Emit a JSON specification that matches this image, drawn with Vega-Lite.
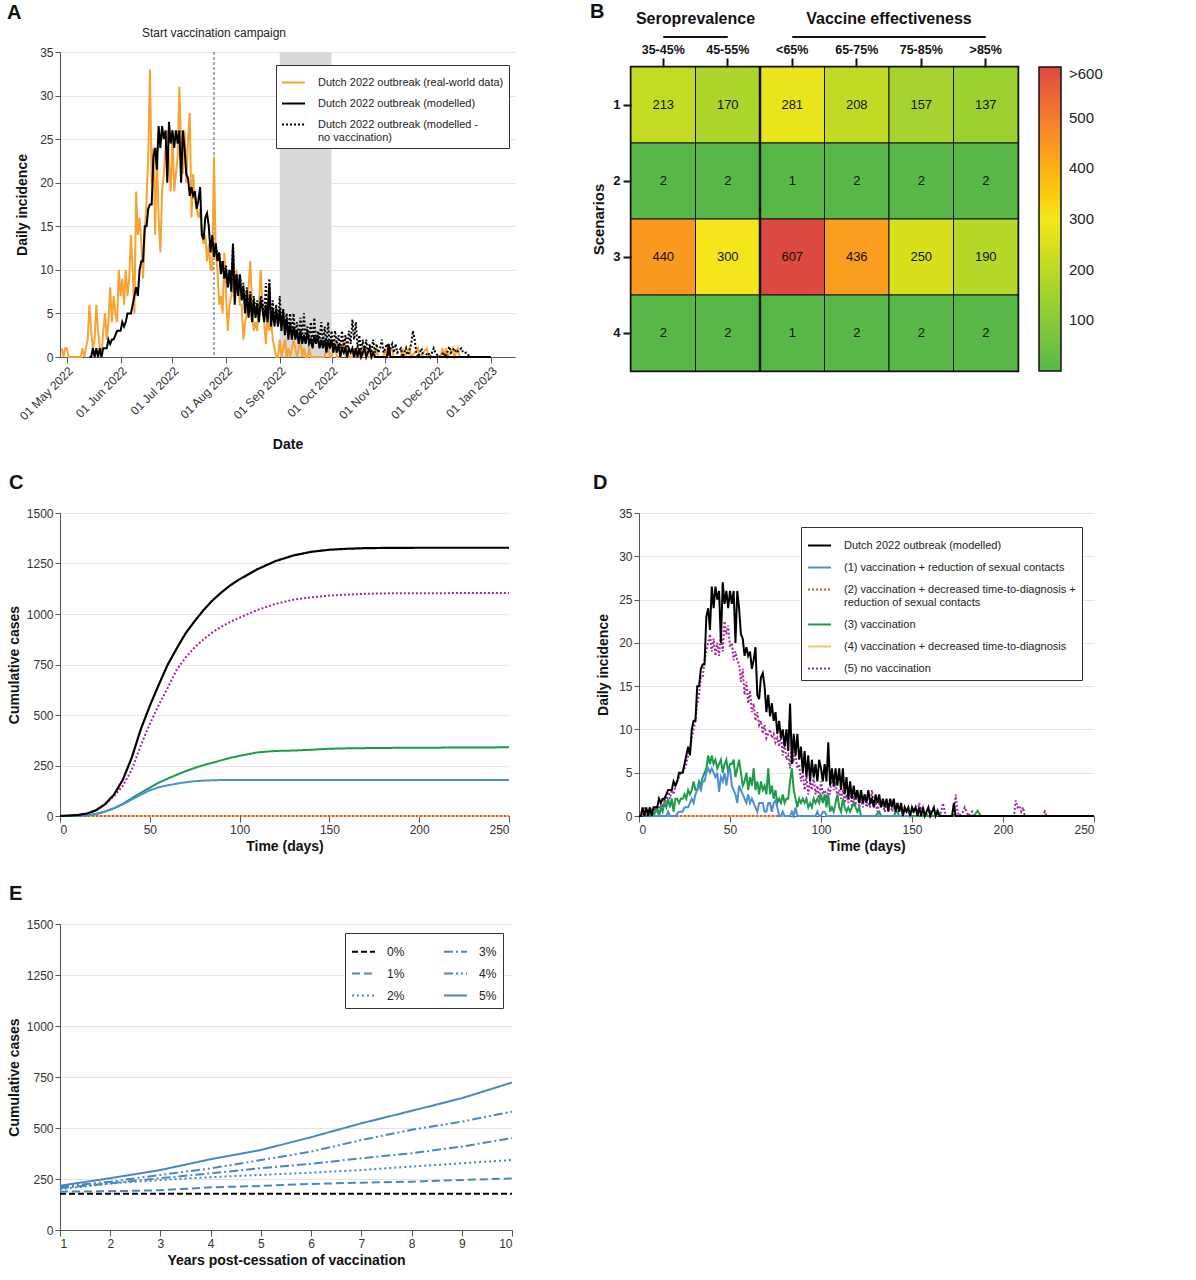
{
"$schema": "https://vega.github.io/schema/vega-lite/v6.json",
"background": "white",
"padding": {"left": 7, "top": 2, "right": 5, "bottom": 5},
"config": {
 "font": "Liberation Sans",
 "view": {"stroke": null},
 "axis": {"labelFont": "Liberation Sans", "titleFont": "Liberation Sans", "labelFontSize": 12, "labelColor": "#333", "titleFontSize": 14, "titleFontWeight": "bold", "titleColor": "#111", "domainColor": "#555", "tickColor": "#555", "gridColor": "#e4e4e4"},
 "legend": {"labelFont": "Liberation Sans", "labelFontSize": 11, "labelColor": "#222", "labelLimit": 400},
 "title": {"font": "Liberation Sans", "fontSize": 20, "fontWeight": "bold", "anchor": "start", "color": "#111"},
 "text": {"font": "Liberation Sans"}
},
"datasets": {
 "daily": [
  {"t":-16,"rw":1},{"t":-15,"rw":0},{"t":-14,"rw":1},{"t":-13,"rw":1},{"t":-12,"rw":0},{"t":-5,"rw":0},{"t":-4,"rw":1},{"t":-3,"rw":0},{"t":-2,"rw":1},{"t":-1,"rw":2},
  {"t":0,"rw":6,"m":0,"s5":0},
  {"t":1,"rw":3,"m":0,"s5":0},
  {"t":2,"rw":1,"m":1,"s5":0},
  {"t":3,"rw":2,"m":0,"s5":1,"s3":0},
  {"t":4,"rw":6,"m":1,"s5":0,"s3":0},
  {"t":5,"rw":3,"m":0,"s5":0,"s3":0,"s1":0,"s2":0,"s4":0},
  {"t":6,"rw":1,"m":1,"s5":1,"s3":1},
  {"t":7,"rw":0,"m":0,"s5":0,"s3":0},
  {"t":8,"rw":3,"m":1,"s5":0,"s3":0},
  {"t":9,"rw":5,"m":1,"s5":1,"s3":0.5},
  {"t":10,"rw":2,"m":1,"s5":0.5,"s3":1},
  {"t":11,"rw":4,"m":2,"s5":1,"s3":0},
  {"t":12,"rw":8,"m":1.5,"s5":1.5,"s3":1},
  {"t":13,"rw":4,"m":2,"s5":1,"s3":0.5},
  {"t":14,"rw":7,"m":2,"s5":2,"s3":1.5},
  {"t":15,"rw":5,"m":2.5,"s5":1.5,"s3":1,"s1":0},
  {"t":16,"rw":4,"m":3,"s5":3,"s3":2,"s1":0.5},
  {"t":17,"rw":10,"m":3,"s5":2,"s3":1,"s1":0},
  {"t":18,"rw":7,"m":3,"s5":3,"s3":2},
  {"t":19,"rw":9,"m":4,"s5":2.5,"s3":0.5},
  {"t":20,"rw":6,"m":3.5,"s5":3.5,"s3":2,"s1":0},
  {"t":21,"rw":10,"m":4,"s5":4,"s3":2},
  {"t":22,"rw":7,"m":5,"s5":4.5,"s3":1.5,"s1":0.5},
  {"t":23,"rw":9,"m":5,"s5":5,"s3":2},
  {"t":24,"rw":14,"m":5,"s5":5,"s3":2,"s1":0.5},
  {"t":25,"rw":10,"m":6,"s5":5.5,"s3":2.5,"s1":1},
  {"t":26,"rw":5,"m":7,"s5":6,"s3":2},
  {"t":27,"rw":19,"m":8,"s5":7,"s3":3,"s1":1},
  {"t":28,"rw":14,"m":7,"s5":7.5,"s3":2.5,"s1":1.5},
  {"t":29,"rw":16,"m":10,"s5":9,"s3":3,"s1":2},
  {"t":30,"rw":13,"m":11,"s5":10,"s3":4,"s1":1.5},
  {"t":31,"rw":9,"m":11,"s5":11,"s3":3,"s1":2.5},
  {"t":32,"rw":14,"m":15,"s5":13,"s3":3,"s1":3},
  {"t":33,"rw":18,"m":15,"s5":14,"s3":4,"s1":3.5},
  {"t":34,"rw":23,"m":17,"s5":16,"s3":3.5,"s1":3},
  {"t":35,"rw":33,"m":17.5,"s5":16,"s3":4.5,"s1":4},
  {"t":36,"rw":20,"m":17.5,"s5":18,"s3":5,"s1":4},
  {"t":37,"rw":24,"m":23,"s5":19,"s3":5.5,"s1":5},
  {"t":38,"rw":14,"m":24,"s5":20,"s3":7,"s1":5.5},
  {"t":39,"rw":24,"m":21.5,"s5":21,"s3":6,"s1":5},
  {"t":40,"rw":16,"m":26.5,"s5":19,"s3":7,"s1":5.5},
  {"t":41,"rw":12,"m":24,"s5":20.5,"s3":6,"s1":5},
  {"t":42,"rw":19,"m":26.5,"s5":18.5,"s3":6.5,"s1":4.5},
  {"t":43,"rw":21,"m":25,"s5":20,"s3":5.5,"s1":5},
  {"t":44,"rw":24,"m":26,"s5":18.5,"s3":6,"s1":2.8},
  {"t":45,"rw":26,"m":20,"s5":21,"s3":6.5,"s1":4.5},
  {"t":46,"rw":22,"m":27,"s5":19,"s3":5,"s1":4},
  {"t":47,"rw":19,"m":24.5,"s5":22.5,"s3":6,"s1":5},
  {"t":48,"rw":26,"m":26,"s5":21,"s3":6.5,"s1":3.5},
  {"t":49,"rw":19,"m":24,"s5":22,"s3":5,"s1":5},
  {"t":50,"rw":21,"m":26,"s5":19.5,"s3":6,"s1":5.5},
  {"t":51,"rw":23,"m":24.5,"s5":20,"s3":6,"s1":3.5},
  {"t":52,"rw":31,"m":26,"s5":18,"s3":6.5,"s1":3},
  {"t":53,"rw":24,"m":20,"s5":19,"s3":4.5,"s1":2.5},
  {"t":54,"rw":21,"m":26,"s5":18,"s3":5.5,"s1":1.5},
  {"t":55,"rw":26,"m":24,"s5":17.5,"s3":6.5,"s1":3.5},
  {"t":56,"rw":20,"m":21,"s5":15.5,"s3":5,"s1":3},
  {"t":57,"rw":25,"m":20.5,"s5":17,"s3":3.5,"s1":2.5},
  {"t":58,"rw":28,"m":18.5,"s5":14,"s3":4,"s1":2},
  {"t":59,"rw":16,"m":19.5,"s5":15.5,"s3":5,"s1":1.5},
  {"t":60,"rw":21,"m":18.5,"s5":13,"s3":3,"s1":2.5},
  {"t":61,"rw":18,"m":19,"s5":14.5,"s3":4.5,"s1":1.5},
  {"t":62,"rw":17,"m":17,"s5":12,"s3":3.5,"s1":2},
  {"t":63,"rw":16,"m":18,"s5":13,"s3":5.5,"s1":1.5},
  {"t":64,"rw":17,"m":19.5,"s5":11,"s3":3,"s1":1},
  {"t":65,"rw":14,"m":14,"s5":12,"s3":4,"s1":0.5},
  {"t":66,"rw":13,"m":13.5,"s5":10.5,"s3":2.5,"s1":1.5},
  {"t":67,"rw":14,"m":16,"s5":11,"s3":4,"s1":1.5},
  {"t":68,"rw":11,"m":16.5,"s5":9.5,"s3":3,"s1":1.5},
  {"t":69,"rw":13,"m":15,"s5":10.5,"s3":3.5,"s1":0.5},
  {"t":70,"rw":10,"m":12,"s5":9,"s3":2.5,"s1":0.5},
  {"t":71,"rw":10,"m":14,"s5":9.5,"s3":5.5,"s1":1.5},
  {"t":72,"rw":23,"m":11.5,"s5":10,"s3":2.5,"s1":1.5,"nv":11.5},
  {"t":73,"rw":12,"m":13,"s5":9,"s3":3.5,"s1":0.5,"nv":13},
  {"t":74,"rw":10,"m":11,"s5":9.5,"s3":2,"s1":1.5,"nv":11.5},
  {"t":75,"rw":6,"m":12,"s5":8.5,"s3":3,"s1":1.8,"nv":12},
  {"t":76,"rw":7,"m":9.5,"s5":9,"s3":1.5,"s1":1,"nv":10},
  {"t":77,"rw":5,"m":11,"s5":8,"s3":2,"s1":0,"nv":11},
  {"t":78,"rw":12,"m":9,"s5":9.5,"s3":1.5,"s1":0,"nv":9},
  {"t":79,"rw":7,"m":10,"s5":7,"s3":2.5,"s1":0.5,"nv":10.5},
  {"t":80,"rw":3,"m":8,"s5":8.5,"s3":1.5,"s1":0,"s4":0,"nv":8},
  {"t":81,"rw":6,"m":10,"s5":6.5,"s3":2,"nv":10},
  {"t":82,"rw":7,"m":7.5,"s5":7,"s3":2,"nv":8},
  {"t":83,"rw":9,"m":13,"s5":5.5,"s3":4,"s1":0,"nv":13},
  {"t":84,"rw":8,"m":6,"s5":8,"s3":5.5,"s1":0.5,"nv":6.5},
  {"t":85,"rw":10,"m":9.5,"s5":6.5,"s3":3,"s1":0,"s2":0,"nv":9.5},
  {"t":86,"rw":8,"m":7,"s5":7,"s3":2,"s1":1,"nv":7.5},
  {"t":87,"rw":6,"m":9.5,"s5":5.5,"s3":1,"s1":0,"nv":9.5},
  {"t":88,"rw":6,"m":6.5,"s5":6,"s3":2,"nv":7},
  {"t":89,"rw":2,"m":8,"s5":4,"s3":1.5,"nv":8.5},
  {"t":90,"rw":4,"m":5,"s5":5,"s3":2,"nv":5.5},
  {"t":91,"rw":5,"m":7.5,"s5":3,"s3":1.5,"nv":8},
  {"t":92,"rw":8,"m":4.5,"s5":4.5,"s3":2,"nv":5},
  {"t":93,"rw":11,"m":7,"s5":2.5,"s3":1,"nv":7.5},
  {"t":94,"rw":6,"m":4,"s5":4,"s3":1.5,"nv":4.5},
  {"t":95,"rw":3,"m":6.5,"s5":3,"s3":1,"nv":7},
  {"t":96,"rw":4,"m":4.5,"s5":4.5,"s3":2,"nv":5},
  {"t":97,"rw":3,"m":6,"s5":2.5,"s3":1.5,"s1":0,"nv":6.5},
  {"t":98,"rw":6,"m":4,"s5":3.5,"s3":2,"s1":0.5,"nv":4.5},
  {"t":99,"rw":10,"m":6.5,"s5":2,"s3":1.5,"s1":0,"nv":7},
  {"t":100,"rw":6,"m":5.5,"s5":4,"s3":2.5,"s1":0,"nv":6.5},
  {"t":101,"rw":4,"m":4,"s5":2.5,"s3":1.5,"s1":0.5,"nv":4.5},
  {"t":102,"rw":1.5,"m":6,"s5":3,"s3":2.5,"s1":0.5,"nv":8.5},
  {"t":103,"rw":5,"m":4,"s5":2,"s3":1,"s1":0,"nv":4.5},
  {"t":104,"rw":3,"m":8.5,"s5":3,"s3":2.5,"nv":9},
  {"t":105,"rw":4,"m":3.5,"s5":2.5,"s3":0.5,"nv":4},
  {"t":106,"rw":2,"m":5.5,"s5":5.5,"s3":1,"nv":6.5},
  {"t":107,"rw":1,"m":3.5,"s5":3,"s3":0.5,"nv":4},
  {"t":108,"rw":0,"m":5.5,"s5":4,"s3":1.5,"nv":6},
  {"t":109,"rw":0,"m":3.5,"s5":2,"s3":2.5,"nv":3.5},
  {"t":110,"rw":2,"m":5.5,"s5":3,"s3":1,"nv":7},
  {"t":111,"rw":0,"m":3,"s5":2,"s3":0.5,"nv":3.5},
  {"t":112,"rw":1,"m":5.5,"s5":3,"s3":2,"nv":5.5},
  {"t":113,"rw":2,"m":2.5,"s5":1.5,"s3":1,"nv":3},
  {"t":114,"rw":0,"m":4.5,"s5":2.5,"s3":0.5,"nv":5},
  {"t":115,"rw":1,"m":2,"s5":1.5,"s3":1,"nv":3},
  {"t":116,"rw":0,"m":4,"s5":3,"s3":0.5,"nv":5},
  {"t":117,"rw":1,"m":2,"s5":1,"s3":1,"nv":2.5},
  {"t":118,"rw":2,"m":3.5,"s5":2,"s3":1.5,"nv":5},
  {"t":119,"rw":1,"m":2,"s5":1.5,"s3":1,"nv":2.5},
  {"t":120,"rw":0,"m":3,"s5":3,"s3":0.5,"nv":4},
  {"t":121,"rw":1,"m":1.5,"s5":1,"s3":1,"nv":2},
  {"t":122,"rw":2,"m":3,"s5":2,"s3":0,"nv":4.5},
  {"t":123,"rw":0,"m":1.5,"s5":1,"nv":2},
  {"t":124,"rw":1,"m":2.5,"s5":2.5,"nv":5},
  {"t":125,"rw":0,"m":1.5,"s5":1,"nv":2},
  {"t":126,"rw":0,"m":3,"s5":1.5,"nv":3.5},
  {"t":127,"rw":1,"m":1.5,"s5":1,"nv":2},
  {"t":128,"rw":0,"m":2,"s5":3,"nv":4},
  {"t":129,"rw":0,"m":1,"s5":1,"nv":1.5},
  {"t":130,"m":2.5,"s5":1.5,"s3":0,"nv":4.5},
  {"t":131,"m":1.5,"s5":0.5,"nv":1.5},
  {"t":132,"m":2.5,"s5":1.5,"s3":0.5,"nv":3},
  {"t":133,"m":1,"s5":1,"s3":0,"nv":2},
  {"t":134,"m":2,"s5":1.5,"nv":4},
  {"t":135,"rw":0,"m":1,"s5":0.5,"nv":1.5},
  {"t":136,"rw":0,"m":2,"s5":1.5,"nv":3.5},
  {"t":137,"rw":1,"m":0.5,"s5":1,"nv":1.5},
  {"t":138,"rw":2,"m":2,"s5":2,"nv":4},
  {"t":139,"rw":0,"m":1,"s5":0.5,"nv":1},
  {"t":140,"rw":0,"m":2,"s5":1,"s3":0,"nv":3},
  {"t":141,"rw":1,"m":0.5,"s5":0.5,"s3":0.5,"nv":1},
  {"t":142,"rw":2,"m":1.5,"s5":1.5,"s3":0.5,"nv":3},
  {"t":143,"rw":0,"m":0.5,"s5":0.5,"s3":0,"nv":1.5},
  {"t":144,"rw":0,"m":1.5,"s5":1,"nv":2.5},
  {"t":145,"rw":0,"m":0,"s5":0,"nv":1},
  {"t":146,"rw":1,"m":1,"s5":1,"nv":3},
  {"t":147,"rw":2,"m":0.5,"s5":0.5,"nv":1},
  {"t":148,"rw":0,"m":1,"s5":0.5,"nv":2.5},
  {"t":149,"rw":1,"m":0,"s5":0,"nv":1},
  {"t":150,"rw":0,"m":1,"s5":0.5,"s1":0,"nv":3},
  {"t":151,"m":0.5,"nv":1.5},
  {"t":152,"rw":0,"m":1,"s5":1,"nv":4.3},
  {"t":153,"rw":1,"m":0,"s5":0.5,"nv":2},
  {"t":154,"rw":0,"m":1,"s5":1.5,"nv":4},
  {"t":155,"rw":1,"m":0,"s5":0.5,"nv":1},
  {"t":156,"rw":0,"m":1,"s5":1,"nv":2.5},
  {"t":157,"rw":1,"m":0,"s5":0,"nv":0.5},
  {"t":158,"rw":0,"m":0.5,"nv":2},
  {"t":159,"rw":1,"m":1,"nv":0.5},
  {"t":160,"rw":1,"m":0,"s5":0.5,"nv":2},
  {"t":161,"rw":0,"m":0.5,"s5":0,"nv":0.5},
  {"t":162,"m":1,"nv":1.5},
  {"t":163,"m":0,"s3":0,"nv":0.5},
  {"t":164,"m":0.5,"s3":0.7,"nv":2},
  {"t":165,"rw":0,"m":0,"s5":0,"s3":0.3,"nv":0.5},
  {"t":166,"rw":1,"m":0,"s5":0.5,"s3":0,"nv":1.5},
  {"t":167,"rw":0,"s5":1.5,"nv":0.5},
  {"t":168,"s5":0.5,"nv":1},
  {"t":169,"s5":0,"nv":2},
  {"t":170,"rw":0,"nv":0.5},
  {"t":171,"rw":1},
  {"t":172,"rw":0,"m":0,"nv":1.5},
  {"t":173,"m":1.5,"s5":0,"nv":0.5},
  {"t":174,"m":0,"s5":2.5},
  {"t":175,"rw":1,"m":0,"s5":0.5,"nv":1.5},
  {"t":176,"rw":0,"s5":0,"nv":0.5},
  {"t":177,"nv":1.5},
  {"t":178,"s5":0.5,"nv":0.5},
  {"t":179,"s5":1},
  {"t":180,"rw":0,"m":0,"s5":0.5,"nv":1},
  {"t":181,"rw":1,"s5":0,"nv":0},
  {"t":182,"rw":0},
  {"t":183,"s5":0.5,"nv":1},
  {"t":184,"s3":0,"s5":0,"nv":0},
  {"t":185,"rw":1},
  {"t":186,"rw":0,"s3":0.6,"nv":1.5},
  {"t":187,"s3":0.3,"nv":3},
  {"t":188,"s3":0,"nv":2},
  {"t":189,"nv":0.5},
  {"t":190,"rw":1,"nv":0},
  {"t":191,"rw":0},
  {"t":192,"nv":1},
  {"t":193,"nv":0},
  {"t":195,"rw":1},
  {"t":196,"rw":0,"nv":0.5},
  {"t":197,"nv":0},
  {"t":199,"nv":1},
  {"t":200,"nv":0.5},
  {"t":202,"nv":0},
  {"t":203,"rw":0},
  {"t":204,"rw":1},
  {"t":205,"rw":0,"nv":0.5},
  {"t":206,"rw":1,"s5":0,"nv":0},
  {"t":207,"rw":0,"s5":1.8},
  {"t":208,"s5":1,"nv":1.2},
  {"t":209,"s5":1.2,"nv":0.5},
  {"t":210,"rw":1,"s5":0.5},
  {"t":211,"rw":0,"s5":1,"nv":1},
  {"t":212,"s5":0,"nv":0.5},
  {"t":213,"rw":1},
  {"t":214,"rw":0},
  {"t":215,"nv":1},
  {"t":216,"nv":0.5},
  {"t":218,"nv":0.5},
  {"t":220,"rw":0,"nv":0},
  {"t":222,"s5":0},
  {"t":223,"s5":0.5},
  {"t":224,"s5":0},
  {"t":232,"m":0},
  {"t":250,"m":0}
 ],
 "cum": [
  {"t":0,"m":0,"s1":0,"s2":0,"s3":0,"s4":0,"s5":0},
  {"t":5,"m":2,"s1":0.5,"s3":0.5,"s5":2},
  {"t":10,"m":5,"s1":1,"s3":1,"s5":5},
  {"t":15,"m":12,"s1":3,"s3":3,"s5":12},
  {"t":20,"m":28,"s1":10,"s3":10,"s5":28},
  {"t":25,"m":58,"s1":22,"s3":22,"s5":57},
  {"t":30,"m":105,"s1":38,"s3":38,"s5":98},
  {"t":35,"m":180,"s1":58,"s3":60,"s5":150},
  {"t":40,"m":290,"s1":82,"s3":88,"s5":230},
  {"t":45,"m":430,"s1":105,"s3":115,"s5":350},
  {"t":50,"m":545,"s1":127,"s3":140,"s5":455},
  {"t":55,"m":650,"s1":142,"s3":165,"s5":550},
  {"t":60,"m":750,"s1":152,"s3":185,"s5":635},
  {"t":65,"m":830,"s1":160,"s3":204,"s5":725},
  {"t":70,"m":905,"s1":167,"s3":222,"s5":785},
  {"t":75,"m":965,"s1":172,"s3":238,"s5":835},
  {"t":80,"m":1020,"s1":175,"s3":252,"s5":875},
  {"t":85,"m":1068,"s1":177,"s3":264,"s5":910},
  {"t":90,"m":1108,"s1":178,"s3":276,"s5":938},
  {"t":95,"m":1143,"s1":178,"s3":288,"s5":962},
  {"t":100,"m":1172,"s1":178,"s3":298,"s5":982},
  {"t":110,"m":1222,"s1":178,"s3":315,"s5":1020},
  {"t":120,"m":1262,"s1":178,"s3":322,"s5":1050},
  {"t":130,"m":1290,"s1":178,"s3":324,"s5":1071},
  {"t":140,"m":1308,"s1":178,"s3":328,"s5":1083},
  {"t":150,"m":1318,"s1":178,"s3":333,"s5":1091},
  {"t":160,"m":1323,"s1":178,"s3":335,"s5":1096},
  {"t":170,"m":1326,"s1":178,"s3":336,"s5":1100},
  {"t":180,"m":1327,"s1":178,"s3":337,"s5":1102},
  {"t":200,"m":1328,"s1":178,"s3":338,"s5":1103},
  {"t":250,"m":1328,"s1":178,"s2":0,"s3":340,"s4":0,"s5":1104}
 ],
 "years": [
  {"yr":1,"p0":178,"p1":188,"p2":200,"p3":205,"p4":212,"p5":217},
  {"yr":2,"p0":178,"p1":190,"p2":228,"p3":229,"p4":237,"p5":254},
  {"yr":3,"p0":178,"p1":195,"p2":245,"p3":254,"p4":270,"p5":294},
  {"yr":4,"p0":178,"p1":209,"p2":259,"p3":278,"p4":302,"p5":347},
  {"yr":5,"p0":178,"p1":216,"p2":270,"p3":303,"p4":343,"p5":392},
  {"yr":6,"p0":178,"p1":226,"p2":281,"p3":324,"p4":384,"p5":455},
  {"yr":7,"p0":178,"p1":232,"p2":294,"p3":352,"p4":441,"p5":523},
  {"yr":8,"p0":178,"p1":237,"p2":311,"p3":376,"p4":491,"p5":584},
  {"yr":9,"p0":178,"p1":245,"p2":327,"p3":409,"p4":531,"p5":646},
  {"yr":10,"p0":178,"p1":253,"p2":343,"p3":450,"p4":580,"p5":723}
 ],
 "heat": [
  {"scenario":"1","range":"35-45%","cases":213},{"scenario":"1","range":"45-55%","cases":170},{"scenario":"1","range":"<65%","cases":281},{"scenario":"1","range":"65-75%","cases":208},{"scenario":"1","range":"75-85%","cases":157},{"scenario":"1","range":">85%","cases":137},
  {"scenario":"2","range":"35-45%","cases":2},{"scenario":"2","range":"45-55%","cases":2},{"scenario":"2","range":"<65%","cases":1},{"scenario":"2","range":"65-75%","cases":2},{"scenario":"2","range":"75-85%","cases":2},{"scenario":"2","range":">85%","cases":2},
  {"scenario":"3","range":"35-45%","cases":440},{"scenario":"3","range":"45-55%","cases":300},{"scenario":"3","range":"<65%","cases":607},{"scenario":"3","range":"65-75%","cases":436},{"scenario":"3","range":"75-85%","cases":250},{"scenario":"3","range":">85%","cases":190},
  {"scenario":"4","range":"35-45%","cases":2},{"scenario":"4","range":"45-55%","cases":2},{"scenario":"4","range":"<65%","cases":1},{"scenario":"4","range":"65-75%","cases":2},{"scenario":"4","range":"75-85%","cases":2},{"scenario":"4","range":">85%","cases":2}
 ]
},
"resolve": {"scale": {"x": "independent", "y": "independent", "color": "independent", "strokeDash": "independent"}, "legend": {"color": "independent", "strokeDash": "independent"}},
"concat": [
 {
  "resolve": {"scale": {"x": "independent", "y": "independent", "color": "independent", "strokeDash": "independent"}, "legend": {"color": "independent", "strokeDash": "independent"}},
  "concat": [
   {
    "resolve": {"scale": {"x": "independent", "y": "independent", "color": "independent", "strokeDash": "independent"}, "legend": {"color": "independent", "strokeDash": "independent"}},
    "concat": [
     {
      "title": {"text": "A", "frame": "group", "dx": -53, "offset": -11},
      "spacing": 6,
      "resolve": {"scale": {"x": "independent", "y": "independent", "color": "independent", "strokeDash": "independent"}, "legend": {"color": "independent", "strokeDash": "independent"}},
      "vconcat": [
       {
        "width": 455, "height": 26,
        "data": {"values": [{"t": 72, "label": "Start vaccination campaign"}]},
        "mark": {"type": "text", "fontSize": 12, "color": "#222"},
        "encoding": {"x": {"field": "t", "type": "quantitative", "scale": {"domain": [-17, 246], "nice": false, "zero": false}, "axis": null}, "y": {"datum": 0.19, "type": "quantitative", "scale": {"domain": [0, 1]}, "axis": null}, "text": {"field": "label"}}
       },
       {
        "width": 455, "height": 305,
        "encoding": {"x": {"field": "t", "type": "quantitative", "scale": {"domain": [-17, 246], "nice": false, "zero": false}, "axis": {"values": [-13,18,48,79,110,140,171,201,232], "labelExpr": "timeFormat(datetime(2022, 4, 14 + datum.value), '%d %b %Y')", "labelAngle": -45, "labelOverlap": false, "grid": false, "tickSize": 6, "title": "Date", "titlePadding": 16}}},
        "layer": [
         {"data": {"values": [{"t": 110, "t2": 140}]}, "mark": {"type": "rect", "color": "#d9d9d9"}, "encoding": {"x2": {"field": "t2"}}},
         {"data": {"values": [{"t": 72}]}, "mark": {"type": "rule", "color": "#555", "strokeDash": [3, 2], "strokeWidth": 1}, "encoding": {}},
         {"data": {"name": "daily"},
          "transform": [{"fold": ["rw", "nv", "m"], "as": ["key", "value"]}, {"filter": "isValid(datum.value)"}, {"filter": "datum.key != 'm' || datum.t <= 232"}],
          "encoding": {
           "y": {"field": "value", "type": "quantitative", "scale": {"domain": [0, 35], "nice": false}, "axis": {"values": [0,5,10,15,20,25,30,35], "title": "Daily incidence", "titlePadding": 10, "grid": true}},
           "color": {"field": "key", "type": "nominal", "scale": {"domain": ["rw", "m", "nv"], "range": ["#f5a333", "#000000", "#000000"]},
            "legend": {"title": null, "orient": "none", "legendX": 216, "legendY": 13, "labelExpr": "datum.value == 'rw' ? 'Dutch 2022 outbreak (real-world data)' : datum.value == 'm' ? 'Dutch 2022 outbreak (modelled)' : ['Dutch 2022 outbreak (modelled -', 'no vaccination)']", "symbolType": "stroke", "symbolSize": 529, "symbolStrokeWidth": 2, "padding": 5, "strokeColor": "#333", "fillColor": "white", "rowPadding": 3, "labelOffset": 12}},
           "strokeDash": {"field": "key", "type": "nominal", "scale": {"domain": ["rw", "m", "nv"], "range": [[1, 0], [1, 0], [2, 2]]},
            "legend": {"title": null, "orient": "none", "legendX": 216, "legendY": 13, "labelExpr": "datum.value == 'rw' ? 'Dutch 2022 outbreak (real-world data)' : datum.value == 'm' ? 'Dutch 2022 outbreak (modelled)' : ['Dutch 2022 outbreak (modelled -', 'no vaccination)']", "symbolType": "stroke", "symbolSize": 529, "symbolStrokeWidth": 2, "padding": 5, "strokeColor": "#333", "fillColor": "white", "rowPadding": 3, "labelOffset": 12}}
          },
          "layer": [
           {"transform": [{"filter": "datum.key == 'rw'"}], "mark": {"type": "line", "strokeWidth": 2}},
           {"transform": [{"filter": "datum.key == 'nv'"}], "mark": {"type": "line", "strokeWidth": 2}},
           {"transform": [{"filter": "datum.key == 'm'"}], "mark": {"type": "line", "strokeWidth": 2}}
          ]}
        ]
       }
      ]
     },
     {
      "title": {"text": "B", "frame": "group", "dx": -41, "offset": -11},
      "spacing": 3,
      "resolve": {"scale": {"y": "independent", "color": "independent"}},
      "vconcat": [
       {
        "width": 387, "height": 25,
        "layer": [
         {"data": {"values": [{"group": "Seroprevalence", "first": "35-45%", "last": "45-55%"}, {"group": "Vaccine effectiveness", "first": "<65%", "last": ">85%"}]},
          "mark": {"type": "rule", "color": "#111", "strokeWidth": 2},
          "encoding": {"x": {"field": "first", "type": "nominal", "scale": {"domain": ["35-45%","45-55%","<65%","65-75%","75-85%",">85%"], "paddingInner": 0, "paddingOuter": 0}, "axis": null}, "x2": {"field": "last"}, "y": {"datum": 0, "type": "quantitative", "scale": {"domain": [0, 1]}, "axis": null}}},
         {"data": {"values": [{"group": "Seroprevalence"}]},
          "mark": {"type": "text", "fontSize": 16, "fontWeight": "bold", "color": "#111"},
          "encoding": {"x": {"datum": "35-45%", "type": "nominal", "bandPosition": 1}, "y": {"datum": 0.72, "type": "quantitative"}, "text": {"field": "group"}}},
         {"data": {"values": [{"group": "Vaccine effectiveness"}]},
          "mark": {"type": "text", "fontSize": 16, "fontWeight": "bold", "color": "#111"},
          "encoding": {"x": {"datum": "65-75%", "type": "nominal", "bandPosition": 1}, "y": {"datum": 0.72, "type": "quantitative"}, "text": {"field": "group"}}}
        ]
       },
       {
        "width": 387, "height": 304,
        "view": {"stroke": "#111", "strokeWidth": 2.5},
        "data": {"name": "heat"},
        "encoding": {"x": {"field": "range", "type": "nominal", "scale": {"domain": ["35-45%","45-55%","<65%","65-75%","75-85%",">85%"], "paddingInner": 0, "paddingOuter": 0}, "axis": {"orient": "top", "title": null, "labelAngle": 0, "labelFontWeight": "bold", "labelFontSize": 12.5, "labelColor": "#111", "tickSize": 9, "tickWidth": 2, "tickColor": "#111", "domain": false, "labelPadding": 2, "grid": false}}},
        "layer": [
         {"mark": {"type": "rect", "stroke": "#111", "strokeWidth": 1},
          "encoding": {
           "y": {"field": "scenario", "type": "nominal", "scale": {"paddingInner": 0, "paddingOuter": 0}, "axis": {"title": "Scenarios", "titleFontSize": 15, "labelAngle": 0, "labelFontWeight": "bold", "labelFontSize": 13, "labelColor": "#111", "tickSize": 8, "tickWidth": 2, "tickColor": "#111", "domain": false, "labelPadding": 3, "titlePadding": 6, "grid": false}},
           "color": {"field": "cases", "type": "quantitative", "scale": {"domain": [0, 300, 600], "range": ["#57b847", "#f4e61a", "#dc4940"], "clamp": true},
            "legend": {"title": null, "orient": "right", "offset": 21, "direction": "vertical", "gradientLength": 304, "gradientThickness": 22, "values": [100, 200, 300, 400, 500, 600], "labelExpr": "datum.value == 600 ? '>600' : datum.label", "labelFontSize": 15, "labelColor": "#222", "gradientStrokeColor": "#111", "gradientStrokeWidth": 1.5, "labelOffset": 8}}
          }},
         {"mark": {"type": "text", "fontSize": 13, "color": "#111"},
          "encoding": {"y": {"field": "scenario", "type": "nominal"}, "text": {"field": "cases"}}},
         {"data": {"values": [{"range": "45-55%"}]},
          "mark": {"type": "rule", "color": "#111", "strokeWidth": 2.5},
          "encoding": {"x": {"field": "range", "type": "nominal", "bandPosition": 1}}}
        ]
       }
      ]
     }
    ],
    "columns": 2, "align": "none", "spacing": 75
   },
   {
    "resolve": {"scale": {"x": "independent", "y": "independent", "color": "independent", "strokeDash": "independent"}, "legend": {"color": "independent", "strokeDash": "independent"}},
    "concat": [
     {
      "title": {"text": "C", "frame": "group", "dx": -51, "offset": 14},
      "width": 449, "height": 303,
      "data": {"name": "cum"},
      "transform": [{"fold": ["s4", "s2", "s5", "s3", "s1", "m"], "as": ["key", "value"]}, {"filter": "isValid(datum.value)"}],
      "encoding": {
       "x": {"field": "t", "type": "quantitative", "scale": {"domain": [0, 250], "nice": false}, "axis": {"values": [0,50,100,150,200,250], "grid": false, "tickSize": 6, "title": "Time (days)", "titlePadding": 4}},
       "y": {"field": "value", "type": "quantitative", "scale": {"domain": [0, 1500], "nice": false}, "axis": {"values": [0,250,500,750,1000,1250,1500], "format": "d", "title": "Cumulative cases", "titlePadding": 5, "grid": true}},
       "color": {"field": "key", "type": "nominal", "scale": {"domain": ["m","s1","s2","s3","s4","s5"], "range": ["#000000","#4a90d9","#e8502a","#1e9b48","#f9c56b","#9c2a9c"]}, "legend": null},
       "strokeDash": {"field": "key", "type": "nominal", "scale": {"domain": ["m","s1","s2","s3","s4","s5"], "range": [[1,0],[1,0],[2,2],[1,0],[1,0],[2,2]]}, "legend": null}
      },
      "layer": [
       {"transform": [{"filter": "datum.key == 's4'"}], "mark": {"type": "line", "strokeWidth": 2}},
       {"transform": [{"filter": "datum.key == 's2'"}], "mark": {"type": "line", "strokeWidth": 2}},
       {"transform": [{"filter": "datum.key == 's5'"}], "mark": {"type": "line", "strokeWidth": 2}},
       {"transform": [{"filter": "datum.key == 's3'"}], "mark": {"type": "line", "strokeWidth": 2}},
       {"transform": [{"filter": "datum.key == 's1'"}], "mark": {"type": "line", "strokeWidth": 2}},
       {"transform": [{"filter": "datum.key == 'm'"}], "mark": {"type": "line", "strokeWidth": 2.2}}
      ]
     },
     {
      "title": {"text": "D", "frame": "group", "dx": -46, "offset": 14},
      "width": 455, "height": 303,
      "data": {"name": "daily"},
      "transform": [{"fold": ["s4", "s2", "s5", "s3", "s1", "m"], "as": ["key", "value"]}, {"filter": "isValid(datum.value)"}],
      "encoding": {
       "x": {"field": "t", "type": "quantitative", "scale": {"domain": [0, 250], "nice": false}, "axis": {"values": [0,50,100,150,200,250], "grid": false, "tickSize": 6, "title": "Time (days)", "titlePadding": 4}},
       "y": {"field": "value", "type": "quantitative", "scale": {"domain": [0, 35], "nice": false}, "axis": {"values": [0,5,10,15,20,25,30,35], "title": "Daily incidence", "titlePadding": 8, "grid": true}},
       "color": {"field": "key", "type": "nominal", "scale": {"domain": ["m","s1","s2","s3","s4","s5"], "range": ["#000000","#4a90d9","#e8502a","#1e9b48","#f9c56b","#9c2a9c"]},
        "legend": {"title": null, "orient": "none", "legendX": 162, "legendY": 14, "labelExpr": "datum.value == 'm' ? 'Dutch 2022 outbreak (modelled)' : datum.value == 's1' ? '(1) vaccination + reduction of sexual contacts' : datum.value == 's2' ? ['(2) vaccination + decreased time-to-diagnosis +', 'reduction of sexual contacts'] : datum.value == 's3' ? '(3) vaccination' : datum.value == 's4' ? '(4) vaccination + decreased time-to-diagnosis' : '(5) no vaccination'", "symbolType": "stroke", "symbolSize": 529, "symbolStrokeWidth": 2, "padding": 6, "strokeColor": "#333", "fillColor": "white", "rowPadding": 4, "labelOffset": 12}},
       "strokeDash": {"field": "key", "type": "nominal", "scale": {"domain": ["m","s1","s2","s3","s4","s5"], "range": [[1,0],[1,0],[2,2],[1,0],[1,0],[2,2]]},
        "legend": {"title": null, "orient": "none", "legendX": 162, "legendY": 14, "labelExpr": "datum.value == 'm' ? 'Dutch 2022 outbreak (modelled)' : datum.value == 's1' ? '(1) vaccination + reduction of sexual contacts' : datum.value == 's2' ? ['(2) vaccination + decreased time-to-diagnosis +', 'reduction of sexual contacts'] : datum.value == 's3' ? '(3) vaccination' : datum.value == 's4' ? '(4) vaccination + decreased time-to-diagnosis' : '(5) no vaccination'", "symbolType": "stroke", "symbolSize": 529, "symbolStrokeWidth": 2, "padding": 6, "strokeColor": "#333", "fillColor": "white", "rowPadding": 4, "labelOffset": 12}}
      },
      "layer": [
       {"transform": [{"filter": "datum.key == 's4'"}], "mark": {"type": "line", "strokeWidth": 2}},
       {"transform": [{"filter": "datum.key == 's2'"}], "mark": {"type": "line", "strokeWidth": 2}},
       {"transform": [{"filter": "datum.key == 's5'"}], "mark": {"type": "line", "strokeWidth": 2}},
       {"transform": [{"filter": "datum.key == 's3'"}], "mark": {"type": "line", "strokeWidth": 2}},
       {"transform": [{"filter": "datum.key == 's1'"}], "mark": {"type": "line", "strokeWidth": 2}},
       {"transform": [{"filter": "datum.key == 'm'"}], "mark": {"type": "line", "strokeWidth": 2}}
      ]
     }
    ],
    "columns": 2, "align": "none", "spacing": 79
   }
  ],
  "columns": 1, "align": "none", "spacing": 21
 },
 {
  "title": {"text": "E", "frame": "group", "dx": -51, "offset": 14},
  "width": 452, "height": 306,
  "data": {"name": "years"},
  "transform": [{"fold": ["p0", "p1", "p2", "p3", "p4", "p5"], "as": ["key", "value"]}],
  "mark": {"type": "line", "strokeWidth": 2},
  "encoding": {
   "x": {"field": "yr", "type": "quantitative", "scale": {"domain": [1, 10], "nice": false, "zero": false}, "axis": {"values": [1,2,3,4,5,6,7,8,9,10], "grid": false, "tickSize": 6, "title": "Years post-cessation of vaccination", "titlePadding": 4}},
   "y": {"field": "value", "type": "quantitative", "scale": {"domain": [0, 1500], "nice": false}, "axis": {"values": [0,250,500,750,1000,1250,1500], "format": "d", "title": "Cumulative cases", "titlePadding": 5, "grid": true}},
   "color": {"field": "key", "type": "nominal", "scale": {"domain": ["p0","p1","p2","p3","p4","p5"], "range": ["#000000","#4a87c2","#4a87c2","#4a87c2","#4a87c2","#4a87c2"]},
    "legend": {"title": null, "orient": "none", "legendX": 285, "legendY": 9, "columns": 2, "columnPadding": 35, "labelExpr": "replace(datum.label, 'p', '') + '%'", "symbolType": "stroke", "symbolSize": 529, "symbolStrokeWidth": 2, "labelFontSize": 12, "padding": 6, "strokeColor": "#333", "fillColor": "white", "rowPadding": 3, "labelOffset": 11}},
   "strokeDash": {"field": "key", "type": "nominal", "scale": {"domain": ["p0","p1","p2","p3","p4","p5"], "range": [[6,3],[8,4],[2,3],[9,3,2,3],[9,3,2,3,2,3],[1,0]]},
    "legend": {"title": null, "orient": "none", "legendX": 285, "legendY": 9, "columns": 2, "columnPadding": 35, "labelExpr": "replace(datum.label, 'p', '') + '%'", "symbolType": "stroke", "symbolSize": 529, "symbolStrokeWidth": 2, "labelFontSize": 12, "padding": 6, "strokeColor": "#333", "fillColor": "white", "rowPadding": 3, "labelOffset": 11}}
  }
 }
],
"columns": 1, "align": "none", "spacing": 31
}
